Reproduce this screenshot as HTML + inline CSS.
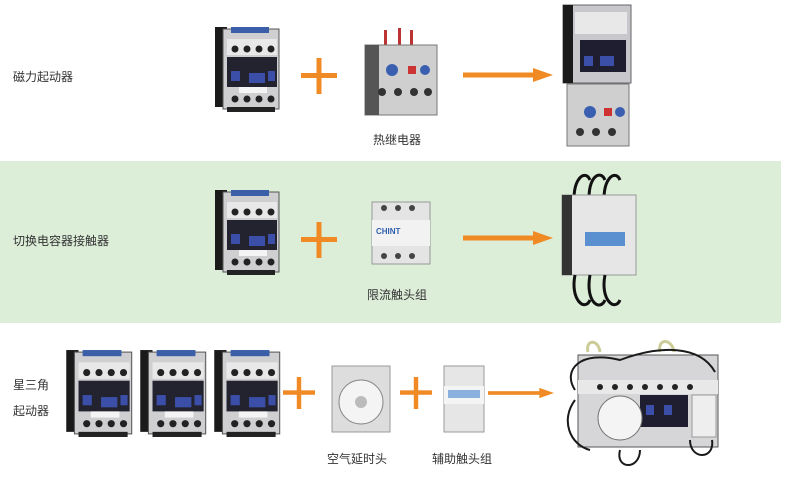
<!DOCTYPE html>
<html><head><meta charset="utf-8"><style>
body{margin:0;width:790px;height:483px;background:#fff;position:relative;overflow:hidden;font-family:"Liberation Sans","Noto Sans CJK SC",sans-serif;}
.band{position:absolute;left:0;top:161px;width:781px;height:162px;background:#dcedd8;}
.t{position:absolute;font-size:12px;color:#333;white-space:nowrap;}
svg{position:absolute;left:0;top:0;}
</style></head><body>
<div class="band"></div>
<svg width="790" height="483" viewBox="0 0 790 483">
<defs>
<symbol id="ct" viewBox="0 0 70 88">
<rect x="2" y="2" width="12" height="80" fill="#1a1a1a"/>
<rect x="10" y="4" width="56" height="80" fill="#cfcfd2" stroke="#555"/>
<rect x="18" y="2" width="38" height="6" fill="#3a5fa8"/>
<rect x="14" y="14" width="50" height="16" fill="#e8e8e8"/>
<g fill="#222"><circle cx="22" cy="24" r="3.5"/><circle cx="34" cy="24" r="3.5"/><circle cx="46" cy="24" r="3.5"/><circle cx="58" cy="24" r="3.5"/>
<circle cx="22" cy="74" r="3.5"/><circle cx="34" cy="74" r="3.5"/><circle cx="46" cy="74" r="3.5"/><circle cx="58" cy="74" r="3.5"/></g>
<rect x="14" y="32" width="50" height="30" fill="#23232f"/>
<rect x="18" y="46" width="9" height="10" fill="#3b4fa8"/><rect x="36" y="48" width="16" height="10" fill="#3b4fa8"/><rect x="55" y="46" width="7" height="10" fill="#3b4fa8"/>
<rect x="26" y="62" width="28" height="6" fill="#f4f4f4"/>
<rect x="14" y="82" width="48" height="5" fill="#222"/>
</symbol>
<symbol id="arr" viewBox="0 0 90 14">
<rect x="0" y="4.5" width="72" height="5" fill="#f08a24"/><polygon points="70,0 90,7 70,14" fill="#f08a24"/>
</symbol>
<symbol id="plus" viewBox="0 0 36 36">
<rect x="0" y="15" width="36" height="5" fill="#f08a24"/><rect x="15.5" y="0" width="5" height="36" fill="#f08a24"/>
</symbol>
</defs>
<!-- row1 -->
<use href="#ct" x="212" y="25" width="72" height="88"/>
<use href="#plus" x="301" y="58" width="36" height="36"/>
<g>
<rect x="384" y="30" width="3" height="16" fill="#b33"/><rect x="398" y="28" width="3" height="18" fill="#b33"/><rect x="410" y="30" width="3" height="16" fill="#b33"/>
<rect x="365" y="45" width="72" height="70" fill="#cfcfcf" stroke="#777"/>
<rect x="365" y="45" width="14" height="70" fill="#555"/>
<circle cx="392" cy="70" r="6" fill="#3b5fb0"/><rect x="408" y="66" width="8" height="8" fill="#c33"/><circle cx="425" cy="70" r="5" fill="#3b5fb0"/>
<g fill="#333"><circle cx="382" cy="92" r="4"/><circle cx="398" cy="92" r="4"/><circle cx="414" cy="92" r="4"/><circle cx="428" cy="92" r="4"/></g>
</g>
<use href="#arr" x="462" y="68" width="92" height="14"/>
<g>
<rect x="563" y="5" width="68" height="78" fill="#c8c8cc" stroke="#666"/>
<rect x="563" y="5" width="10" height="78" fill="#1a1a1a"/>
<rect x="575" y="12" width="52" height="22" fill="#e8e8e8"/>
<rect x="580" y="40" width="46" height="32" fill="#1e1e30"/>
<rect x="584" y="56" width="9" height="10" fill="#3b4fa8"/><rect x="600" y="56" width="14" height="10" fill="#3b4fa8"/>
<rect x="567" y="84" width="62" height="62" fill="#cfcfcf" stroke="#777"/>
<circle cx="590" cy="112" r="6" fill="#3b5fb0"/><rect x="604" y="108" width="8" height="8" fill="#c33"/><circle cx="620" cy="112" r="5" fill="#3b5fb0"/>
<g fill="#333"><circle cx="580" cy="132" r="4"/><circle cx="596" cy="132" r="4"/><circle cx="612" cy="132" r="4"/></g>
</g>
<!-- row2 -->
<use href="#ct" x="212" y="188" width="72" height="88"/>
<use href="#plus" x="301" y="222" width="36" height="36"/>
<g>
<rect x="372" y="202" width="58" height="62" fill="#e4e4e4" stroke="#999"/>
<rect x="372" y="220" width="58" height="26" fill="#f2f2f2"/>
<text x="376" y="234" font-size="8" fill="#2f5fb0" font-weight="bold" font-family="Liberation Sans">CHINT</text>
<g fill="#444"><circle cx="384" cy="208" r="3"/><circle cx="398" cy="208" r="3"/><circle cx="412" cy="208" r="3"/><circle cx="384" cy="256" r="3"/><circle cx="398" cy="256" r="3"/><circle cx="412" cy="256" r="3"/></g>
</g>
<use href="#arr" x="462" y="231" width="92" height="14"/>
<g>
<path d="M575 210 C570 180 585 168 590 180 M590 210 C585 178 600 168 605 180 M605 210 C600 180 615 168 620 180" stroke="#111" stroke-width="3" fill="none"/>
<rect x="562" y="195" width="74" height="80" fill="#e6e6e6" stroke="#999"/>
<rect x="562" y="195" width="10" height="80" fill="#333"/>
<rect x="585" y="232" width="40" height="14" fill="#5a8fd0"/>
<path d="M575 275 C570 300 585 312 590 300 M590 275 C585 302 600 312 605 300 M605 275 C600 300 615 312 620 300" stroke="#111" stroke-width="3" fill="none"/>
</g>
<!-- row3 -->
<use href="#ct" x="64" y="348" width="72" height="90"/>
<use href="#ct" x="138" y="348" width="72" height="90"/>
<use href="#ct" x="212" y="348" width="72" height="90"/>
<use href="#plus" x="283" y="377" width="32" height="32"/>
<g>
<rect x="332" y="366" width="58" height="66" fill="#ddd" stroke="#999"/>
<circle cx="361" cy="402" r="22" fill="#f4f4f4" stroke="#888"/>
<circle cx="361" cy="402" r="6" fill="#bbb"/>
</g>
<use href="#plus" x="400" y="377" width="32" height="32"/>
<g>
<rect x="444" y="366" width="40" height="66" fill="#e6e6e6" stroke="#999"/>
<rect x="444" y="386" width="40" height="18" fill="#f4f4f4"/>
<rect x="448" y="390" width="32" height="8" fill="#8ab0dd"/>
</g>
<use href="#arr" x="488" y="386" width="66" height="14"/>
<g>
<path d="M588 352 C585 340 598 338 600 352 M660 352 C657 338 672 338 674 352" stroke="#cc9" stroke-width="3" fill="none"/>
<rect x="578" y="355" width="140" height="92" fill="#d6d6d8" stroke="#555"/>
<rect x="578" y="380" width="140" height="14" fill="#e8e8e8"/>
<g fill="#222"><circle cx="600" cy="387" r="3"/><circle cx="615" cy="387" r="3"/><circle cx="630" cy="387" r="3"/><circle cx="645" cy="387" r="3"/><circle cx="660" cy="387" r="3"/><circle cx="675" cy="387" r="3"/><circle cx="690" cy="387" r="3"/></g>
<rect x="640" y="395" width="48" height="32" fill="#1e1e30"/>
<rect x="646" y="405" width="8" height="10" fill="#3b4fa8"/><rect x="664" y="405" width="8" height="10" fill="#3b4fa8"/>
<circle cx="620" cy="418" r="22" fill="#f4f4f4" stroke="#777"/>
<rect x="692" y="395" width="24" height="42" fill="#eee" stroke="#999"/>
<path d="M575 390 C562 370 580 350 620 360 C660 345 700 345 715 372 M575 400 C560 420 570 445 590 450 M620 450 C615 470 640 470 640 450 M690 440 C690 460 715 460 712 440" stroke="#1a1a1a" stroke-width="2" fill="none"/>
</g>
</svg>
<div class="t" style="left:13px;top:68px;">磁力起动器</div>
<div class="t" style="left:373px;top:131px;">热继电器</div>
<div class="t" style="left:13px;top:232px;">切换电容器接触器</div>
<div class="t" style="left:367px;top:286px;">限流触头组</div>
<div class="t" style="left:13px;top:376px;">星三角</div>
<div class="t" style="left:13px;top:402px;">起动器</div>
<div class="t" style="left:327px;top:450px;">空气延时头</div>
<div class="t" style="left:432px;top:450px;">辅助触头组</div>
</body></html>
